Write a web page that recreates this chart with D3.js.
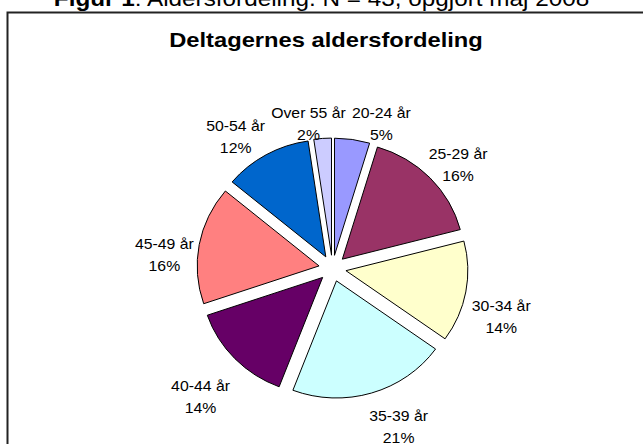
<!DOCTYPE html>
<html>
<head>
<meta charset="utf-8">
<script src="https://cdn.jsdelivr.net/npm/d3@7"></script>
<style>
  html, body { margin: 0; padding: 0; background: #fff; }
  svg { display: block; font-family: Arial, "Liberation Sans", sans-serif; }
</style>
</head>
<body>
<svg id="chart" width="643" height="444"></svg>
<script>
// ---- data ----
const categories = ["20-24 år", "25-29 år", "30-34 år", "35-39 år", "40-44 år", "45-49 år", "50-54 år", "Over 55 år"];
const counts = [2, 7, 6, 9, 6, 7, 5, 1];           // N = 43
const percentLabels = ["5%", "16%", "14%", "21%", "14%", "16%", "12%", "2%"];
const colors = ["#9999FF", "#993366", "#FFFFCC", "#CCFFFF", "#660066", "#FF8080", "#0066CC", "#CCCCFF"];
const captionBold = "Figur 1";
const captionRest = ": Aldersfordeling. N = 43, opgjort maj 2008";
const chartTitle = "Deltagernes aldersfordeling";

// ---- layout ----
const W = 643, H = 444;
const cx = 332.5, cy = 268.3;
const r = 119.5, explode = 13.4;
const sx = 1.02, sy = 0.98;   // slight ellipse
const textSX = 1.13;          // horizontal text stretch of the original

const svg = d3.select("#chart");
svg.append("rect").attr("width", W).attr("height", H).attr("fill", "#fff");

// caption (cut off at top, as in the original)
const cap = svg.append("text")
  .attr("transform", `translate(321.5,5.5) scale(${textSX},1)`)
  .attr("text-anchor", "middle")
  .attr("font-size", 21.5)
  .attr("fill", "#000");
cap.append("tspan").attr("font-weight", "bold").text(captionBold);
cap.append("tspan").text(captionRest);

// chart frame
svg.append("rect")
  .attr("x", 7.5).attr("y", 12.5)
  .attr("width", 720).attr("height", 520)
  .attr("fill", "#fff")
  .attr("stroke", "#222").attr("stroke-width", 2);

// title
svg.append("text")
  .attr("transform", `translate(326,47) scale(${textSX},1)`)
  .attr("text-anchor", "middle")
  .attr("font-size", 21)
  .attr("font-weight", "bold")
  .attr("fill", "#000")
  .text(chartTitle);

// pie
const pie = d3.pie().sort(null).value(d => d).startAngle(0).endAngle(2 * Math.PI);
const arcs = pie(counts);
const arc = d3.arc().innerRadius(0).outerRadius(r);

const g = svg.append("g").attr("transform", `translate(${cx},${cy}) scale(${sx},${sy})`);
g.selectAll("path")
  .data(arcs)
  .join("path")
  .attr("transform", d => {
    const m = (d.startAngle + d.endAngle) / 2;
    return `translate(${explode * Math.sin(m)},${-explode * Math.cos(m)})`;
  })
  .attr("d", arc)
  .attr("fill", (d, i) => colors[i])
  .attr("stroke", "#000")
  .attr("stroke-width", 1)
  .attr("vector-effect", "non-scaling-stroke")
  .attr("stroke-linejoin", "miter");

// labels: placed outside each exploded slice
const fontSize = 14, lineGap = 22;
const hhTop = 22, hhBottom = 0, dropY = 18, bottomSpread = 25;
const R0 = 138;
const tmp = svg.append("text").attr("font-size", fontSize);
const labels = arcs.map((d, i) => {
  const m = (d.startAngle + d.endAngle) / 2;
  tmp.text(categories[i]);
  const w1 = tmp.node().getComputedTextLength() * textSX;
  tmp.text(percentLabels[i]);
  const w2 = tmp.node().getComputedTextLength() * textSX;
  const hw = Math.max(w1, w2) / 2;
  const c = Math.cos(m), s = Math.sin(m);
  const dist = R0 + Math.abs(s) * hw + (c > 0 ? c * hhTop : -c * hhBottom);
  const spread = Math.sign(s) * bottomSpread * Math.max(0, -c);
  return { i, m, hw, x: cx + dist * s + spread, y: cy - dist * c + dropY };
});
tmp.remove();

// simple collision relaxation (horizontal push)
for (let iter = 0; iter < 50; iter++) {
  let moved = false;
  for (let a = 0; a < labels.length; a++) {
    for (let b = a + 1; b < labels.length; b++) {
      const A = labels[a], B = labels[b];
      const ox = (A.hw + B.hw + 6) - Math.abs(A.x - B.x);
      const oy = 40 - Math.abs(A.y - B.y);
      if (ox > 0 && oy > 0) {
        const sgn = A.x < B.x ? -1 : 1;
        A.x += sgn * ox / 2; B.x -= sgn * ox / 2;
        moved = true;
      }
    }
  }
  if (!moved) break;
}

const lg = svg.append("g").attr("font-size", fontSize).attr("fill", "#000");
labels.forEach(L => {
  const t = lg.append("g").attr("transform", `translate(${L.x},${L.y}) scale(${textSX},1)`);
  t.append("text").attr("text-anchor", "middle").attr("y", -lineGap / 2 + 5).text(categories[L.i]);
  t.append("text").attr("text-anchor", "middle").attr("y", lineGap / 2 + 5).text(percentLabels[L.i]);
});
</script>
</body>
</html>
